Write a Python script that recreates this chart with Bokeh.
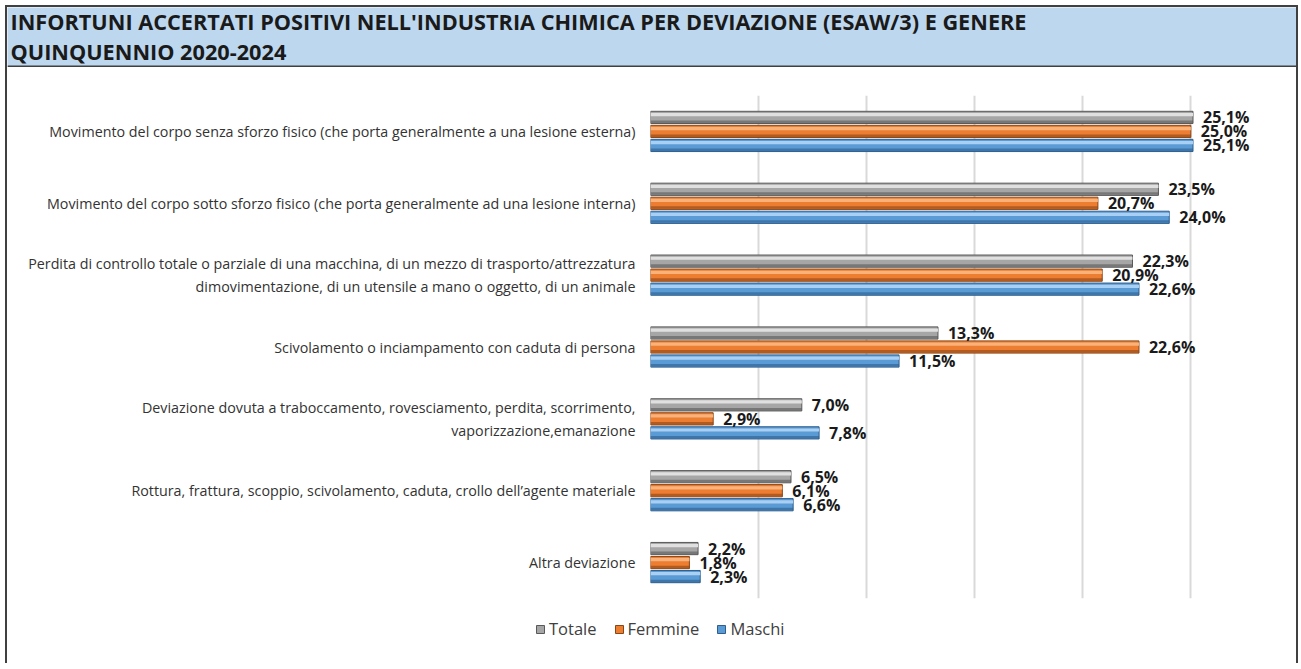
from bokeh.plotting import figure
from bokeh.models import (ColumnDataSource, FactorRange, Range1d, LabelSet, Legend,
                          LegendItem, FixedTicker, Span)
from bokeh.transform import dodge
from bokeh.layouts import column
from bokeh.core.properties import value
from bokeh.embed import file_html
from bokeh.resources import INLINE

title_lines = ["INFORTUNI ACCERTATI POSITIVI NELL'INDUSTRIA CHIMICA PER DEVIAZIONE (ESAW/3) E GENERE",
               "QUINQUENNIO 2020-2024"]

categories = [
    "Movimento del corpo senza sforzo fisico (che porta generalmente a una lesione esterna)",
    "Movimento del corpo sotto sforzo fisico (che porta generalmente ad una lesione interna)",
    "Perdita di controllo totale o parziale di una macchina, di un mezzo di trasporto/attrezzatura\ndimovimentazione, di un utensile a mano o oggetto, di un animale",
    "Scivolamento o inciampamento con caduta di persona",
    "Deviazione dovuta a traboccamento, rovesciamento, perdita, scorrimento,\nvaporizzazione,emanazione",
    "Rottura, frattura, scoppio, scivolamento, caduta, crollo dell\u2019agente materiale",
    "Altra deviazione",
]
totale = [25.1, 23.5, 22.3, 13.3, 7.0, 6.5, 2.2]
femmine = [25.0, 20.7, 20.9, 22.6, 2.9, 6.1, 1.8]
maschi = [25.1, 24.0, 22.6, 11.5, 7.8, 6.6, 2.3]
series_names = ["Totale", "Femmine", "Maschi"]
x_ticks = [0, 5, 10, 15, 20, 25]

def fmt(v):
    return f"{v:.1f}%".replace(".", ",")

src = ColumnDataSource(dict(
    cats=categories, totale=totale, femmine=femmine, maschi=maschi,
    lt=[fmt(v) for v in totale], lf=[fmt(v) for v in femmine], lm=[fmt(v) for v in maschi],
))

FONT = value("Open Sans")
W = 1289

# ---- title band ----
tf = figure(width=W, height=60, x_range=Range1d(0, W), y_range=Range1d(60, 0),
            x_axis_type=None, y_axis_type=None, toolbar_location=None,
            output_backend="svg", min_border=0, outline_line_color=None, frame_align=False,
            background_fill_color="#BDD7EE", border_fill_color="#BDD7EE")
tf.grid.visible = False
tf.text(x=[3, 3], y=[14, 44], text=title_lines, text_font=FONT, text_font_style="bold",
        text_font_size="21.7px", text_color="#1a1a1a", text_baseline="alphabetic")
tf.add_layout(Span(location=59, dimension="width", line_color="#404040", line_width=2))

# ---- chart ----
p = figure(width=W, height=546, y_range=FactorRange(factors=list(reversed(categories))),
           x_range=Range1d(0, 28.5), toolbar_location=None, output_backend="svg",
           min_border_left=643, min_border_right=30, min_border_top=28, min_border_bottom=15,
           outline_line_color=None, frame_align=False)
p.xaxis.visible = False
p.ygrid.visible = False
p.xgrid.ticker = FixedTicker(ticks=x_ticks)
p.xgrid.grid_line_color = "#d9d9d9"
p.xgrid.grid_line_width = 2
yax = p.yaxis[0]
yax.axis_line_color = None
yax.major_tick_line_color = None
yax.minor_tick_line_color = None
yax.major_tick_out = 0
yax.major_tick_in = 0
yax.major_label_standoff = 15
yax.major_label_text_font = "Open Sans"
yax.major_label_text_font_size = "14.3px"
yax.major_label_text_color = "#333333"

off = 0.195
h = 0.17
specs = [
    ("totale", "lt", off, "#a6a6a6", "#e0e0e0", "#595959"),
    ("femmine", "lf", 0.0, "#ed7d31", "#f8b27a", "#8a4515"),
    ("maschi", "lm", -off, "#5b9bd5", "#a9d0f2", "#2d5e8e"),
]
for col, lab, o, mid, light, dark in specs:
    p.hbar(y=dodge("cats", o, range=p.y_range), right=col, height=h, left=0,
           fill_color=mid, line_color=dark, line_width=1, source=src)
    p.hbar(y=dodge("cats", o + 0.04, range=p.y_range), right=col, height=0.045, left=0,
           fill_color=light, line_color=None, source=src)
    p.hbar(y=dodge("cats", o - 0.06, range=p.y_range), right=col, height=0.035, left=0,
           fill_color=dark, line_color=None, fill_alpha=0.6, source=src)
    p.add_layout(LabelSet(x=col, y=dodge("cats", o, range=p.y_range), text=lab, source=src,
                          x_offset=10, text_baseline="middle", text_font=FONT,
                          text_font_style="bold", text_font_size="16px", text_color="#1a1a1a"))

# ---- legend band (keys only; the swatch renderers sit outside the visible range) ----
lf = figure(width=W, height=50, x_range=Range1d(0, 1), y_range=Range1d(0, 1),
            x_axis_type=None, y_axis_type=None, toolbar_location=None,
            output_backend="svg", min_border=0, outline_line_color=None, frame_align=False)
lf.grid.visible = False
leg_rs = []
for (col, lab, o, mid, light, dark) in specs:
    leg_rs.append(lf.hbar(y=[-5], right=[-4], left=[-5], height=0.1,
                          fill_color=mid, line_color=dark))
legend = Legend(items=[LegendItem(label=n, renderers=[r]) for n, r in zip(series_names, leg_rs)],
                orientation="horizontal", location=(528, 23), glyph_width=10, glyph_height=10,
                label_text_font="Open Sans", label_text_font_size="16.5px", label_text_color="#404040",
                spacing=17, padding=0, margin=0, label_standoff=4, border_line_color=None,
                background_fill_alpha=0)
lf.add_layout(legend, "center")

lay = column(tf, p, lf, styles={"border-left": "2px solid #404040", "border-right": "2px solid #404040",
                                "border-top": "2px solid #404040", "margin-left": "5px",
                                "margin-top": "5px"})

open("out.html", "w").write(file_html(lay, INLINE))
